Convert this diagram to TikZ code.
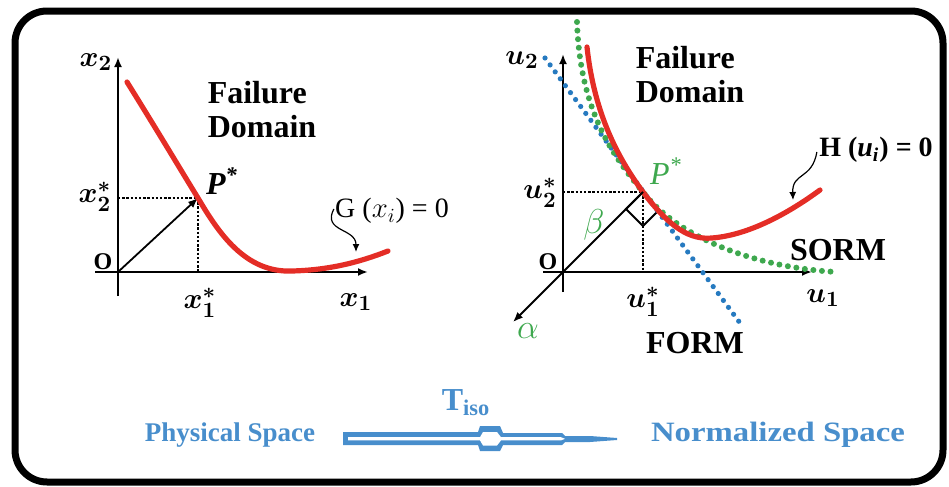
\documentclass[tikz,border=0pt]{standalone}
\usepackage{fontspec}
\setmainfont{Liberation Serif}
\usetikzlibrary{arrows.meta}

\definecolor{rojoFalla}{RGB}{228,45,38}
\definecolor{verdeSorm}{RGB}{62,168,78}
\definecolor{azulForm}{RGB}{38,122,192}
\definecolor{azulTexto}{RGB}{72,142,204}

\newcommand{\tam}[1]{\fontsize{#1}{#1}\selectfont}

\newcommand{\coordFisico}{
\coordinate (O1) at (118,272);
\coordinate (X1ini) at (95,272);
\coordinate (X1fin) at (368,272);
\coordinate (X2ini) at (118,296);
\coordinate (X2fin) at (118,57);
\coordinate (P1) at (198,198);
\coordinate (Q1) at (118,198);
\coordinate (R1) at (198,271);
\coordinate (G1) at (356,252);
}
\newcommand{\coordNormal}{
\coordinate (O2) at (563,272);
\coordinate (U1ini) at (543,272);
\coordinate (U1fin) at (812,272);
\coordinate (U2ini) at (563,292);
\coordinate (U2fin) at (563,54);
\coordinate (P2) at (643,192);
\coordinate (Q2) at (563,192);
\coordinate (R2) at (643,271);
\coordinate (Alfa) at (513,322);
\coordinate (FormIni) at (545,58);
\coordinate (FormFin) at (740,323);
\coordinate (H2) at (793,200);
}

\tikzset{
marco/.style={black,line width=3.5pt,rounded corners=16pt},
eje/.style={black,line width=1.4pt,-{Latex[length=5pt,width=4pt]}},
vector/.style={black,line width=0.9pt,-{Latex[length=5pt,width=4pt]}},
punteado/.style={black,line width=0.9pt,dash pattern=on 1.2pt off 0.9pt},
curvaFalla/.style={rojoFalla,line width=2.6pt,line cap=round},
curvaSorm/.style={verdeSorm,line width=3pt,line cap=round,dash pattern=on 0pt off 4.3pt},
rectaForm/.style={azulForm,line width=2.6pt,line cap=round,dash pattern=on 0pt off 4.3pt},
flechaOnda/.style={black,line width=0.6pt,-{Latex[length=4pt,width=3.5pt]}},
etqMat/.style={font=\tam{15}\boldmath,inner sep=0pt},
etqNegrita/.style={font=\tam{16}\bfseries,inner sep=0pt},
etqDominio/.style={font=\fontsize{16}{17}\selectfont\bfseries,align=left,inner sep=0pt},
etqVerde/.style={font=\tam{16},text=verdeSorm,inner sep=0pt},
etqAzul/.style={font=\tam{14}\bfseries,text=azulTexto,inner sep=0pt}
}

\begin{document}
\begin{tikzpicture}[x=0.5pt,y=-0.5pt]
    \useasboundingbox (0,0) rectangle (949,487);
    \draw[marco] (15,11) rectangle (943,482);

    % espacio fisico
    \coordFisico
    \draw[eje] (X1ini)--(X1fin);
    \draw[eje] (X2ini)--(X2fin);
    \draw[punteado] (Q1)--(P1);
    \draw[punteado] (P1)--(R1);
    \draw[vector] (O1)--(P1);
    \draw[curvaFalla] (127,82) .. controls (160,135) and (185,177) .. (P1)
        .. controls (218,232) and (245,273) .. (292,271)
        .. controls (330,270) and (360,262) .. (388,251);

    \node[etqMat] (x2) at (96,62) {$x_2$};
    \node[etqMat] (x1) at (356,302) {$x_1$};
    \node[etqMat] (x2s) at (95,197) {$x_2^*$};
    \node[etqMat] (x1s) at (200,303) {$x_1^*$};
    \node[font=\tam{12}\bfseries,inner sep=0pt] (o1) at (103,262) {O};
    \node[etqNegrita,font=\tam{16}\bfseries\itshape] (p1) at (222,181) {P\textsuperscript{*}};
    \node[etqDominio] (fd1) at (262,110) {Failure\\Domain};
    \node[font=\tam{14},inner sep=0pt] (g1) at (392,211) {G ($x_i$) = 0};
    \draw[flechaOnda] (g1.west) ++(-1,-2) .. controls (322,232) and (356,228) .. (G1);

    % espacio normalizado
    \coordNormal
    \draw[eje] (U1ini)--(U1fin);
    \draw[eje] (U2ini)--(U2fin);
    \draw[punteado] (Q2)--(P2);
    \draw[punteado] (P2)--(R2);
    \draw[black,line width=0.9pt] (P2) -- ++(-17,17) -- ++(17,17) -- ++(17,-17);
    \draw[rectaForm] (FormIni)--(FormFin);
    \draw[curvaSorm] (577,22) .. controls (580,110) and (612,155) .. (P2)
        .. controls (680,240) and (760,268) .. (837,272);
    \draw[curvaFalla] (587,47) .. controls (594,112) and (617,157) .. (P2)
        .. controls (670,228) and (690,240) .. (712,238)
        .. controls (750,235) and (790,212) .. (820,190);
    \draw[vector] (P2)--(Alfa);

    \node[etqMat] (u2) at (522,60) {$u_2$};
    \node[etqMat] (u1) at (823,298) {$u_1$};
    \node[etqMat] (u2s) at (540,193) {$u_2^*$};
    \node[etqMat] (u1s) at (643,302) {$u_1^*$};
    \node[font=\tam{12}\bfseries,inner sep=0pt] (o2) at (548,262) {O};
    \node[etqVerde,font=\tam{16}\itshape] (p2) at (666,171) {P\textsuperscript{*}};
    \node[etqVerde] (beta) at (594,225) {$\beta$};
    \node[etqVerde] (alfa) at (528,331) {$\alpha$};
    \node[etqDominio] (fd2) at (690,75) {Failure\\Domain};
    \node[font=\tam{14}\bfseries,inner sep=0pt] (h2) at (876,150) {H (\textit{u}\textsubscript{\textit{i}}) = 0};
    \node[etqNegrita] (sorm) at (838,250) {SORM};
    \node[etqNegrita] (form) at (695,343) {FORM};
    \draw[flechaOnda] (h2.west) ++(-2,2) .. controls (812,180) and (792,172) .. (H2);

    % transformacion
    \node[etqAzul,font=\tam{13.5}\bfseries] (fis) at (230,435) {Physical Space};
    \node[etqAzul] (nor) at (778,435) {\scalebox{1.17}[1]{Normalized Space}};
    \node[etqAzul,font=\tam{16}\bfseries] (tiso) at (466,403) {T\textsubscript{iso}};
    \fill[azulTexto] (343,432) -- (478,432) -- (480,426) -- (500,426) -- (503,433)
        -- (562,433) -- (565,436) -- (590,436) -- (617,438) -- (617,440)
        -- (590,442) -- (565,442) -- (562,445) -- (503,445) -- (500,451)
        -- (480,451) -- (478,445) -- (343,445) -- cycle;
    \fill[white] (348,437.2) -- (480,437.2) -- (483,432) -- (497,432) -- (501,437.2)
        -- (561,437.2) -- (565,438.8) -- (561,440.4) -- (501,440.4) -- (497,445.5)
        -- (483,445.5) -- (480,440.4) -- (348,440.4) -- cycle;
\end{tikzpicture}
\end{document}
